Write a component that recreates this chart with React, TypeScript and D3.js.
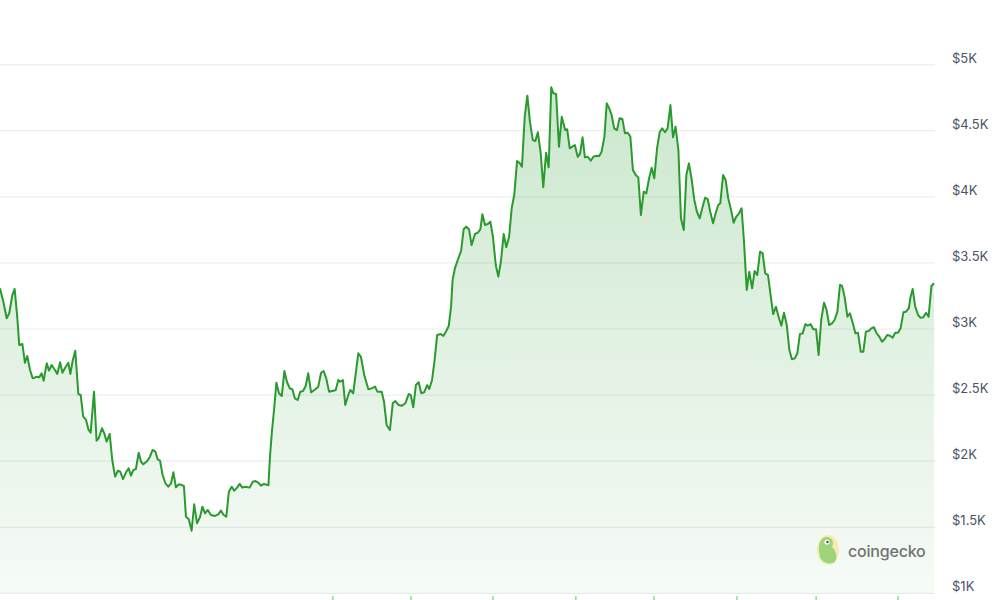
import React from "react";
import * as d3 from "d3";

const days = [
  0,1.3,2.6,3.6,4.8,5.7,6.7,7.5,8.7,9.7,10.6,11.7,12.7,14.3,15.3,16.2,17.0,18.2,19.1,20.1,21.4,22.3,23.4,24.3,25.6,26.6,27.4,28.3,29.3,30.5,31.4,32.4,33.5,34.4,35.3,36.6,37.6,38.4,39.7,40.6,41.5,42.7,43.7,44.8,45.9,46.8,47.9,49.1,50.1,51.0,51.9,52.9,54.0,54.9,55.8,57.3,58.4,59.4,60.5,61.4,62.3,63.3,64.4,65.5,66.6,67.5,68.5,69.6,70.7,71.6,72.4,73.5,
  74.6,75.6,76.7,77.9,78.8,79.8,80.9,82.1,83.7,85.0,86.0,87.1,88.1,89.1,90.2,91.2,92.3,93.3,94.3,95.4,97.2,98.4,99.5,100.6,101.6,102.7,104.5,105.1,105.8,106.8,107.6,108.6,109.7,110.7,111.7,112.8,113.8,114.8,115.9,116.9,118.0,119.0,120.0,121.1,122.4,123.9,125.0,126.0,127.0,128.1,129.8,130.7,131.7,132.5,133.5,134.4,135.6,136.4,137.5,138.5,139.5,140.5,141.8,143.4,144.7,146.0,
  146.9,148.6,149.5,150.5,151.8,152.9,153.9,155.2,156.5,157.8,159.1,159.9,160.9,161.9,163.0,164.0,165.1,166.3,167.1,168.2,169.2,170.2,171.6,172.6,173.6,174.7,175.6,176.2,177.1,178.2,179.5,180.5,181.5,182.6,183.6,184.9,186.0,187.0,187.8,188.8,189.9,190.9,191.9,193.0,194.0,195.0,196.1,197.1,198.2,199.2,200.2,201.3,202.2,203.2,204.3,205.3,206.3,207.4,208.4,209.4,210.5,211.5,212.6,213.6,214.6,215.4,216.5,217.6,
  218.7,220.0,220.8,221.8,222.8,223.8,224.9,225.8,226.8,227.7,228.8,230.0,231.0,232.3,233.3,234.2,235.3,236.2,237.2,238.1,239.1,240.2,241.2,242.3,243.3,244.4,245.4,246.4,247.5,248.5,249.5,250.6,251.6,252.7,253.7,254.7,255.8,256.8,257.8,258.9,259.9,261.0,262.0,263.0,264.1,265.1,266.2,267.2,268.2,269.3,270.3,271.3,272.4,273.4,274.5,275.5,276.5,277.6,278.6,279.6,280.4,281.5,282.5,283.5,284.6,285.6,286.6,287.7,288.7,
  289.6,290.7,291.7,292.8,293.8,294.8,295.9,296.9,297.9,299.0,300.0,301.0,302.1,303.1,304.2,305.2,306.3,307.3,308.3,309.4,310.4,311.4,312.5,313.5,314.5,315.6,316.6,317.7,318.7,319.7,320.8,321.8,322.8,323.9,324.9,326.0,327.0,327.8,328.8,329.9,330.9,332.0,333.0,334.0,335.1,336.1,337.1,338.2,339.2,340.2,341.3,342.3,343.4,344.4,345.4,346.5,347.5,348.5,349.6,350.6,351.7,352.7,353.8,354.5,355.3,356.3,357.4,358.4,359.4,360.5,361.5,362.6,363.6,
];

const prices = [
  3308,3206,3081,3119,3257,3303,3093,2879,2887,2745,2796,2690,2627,2639,2635,2665,2609,2741,2685,2728,2690,2660,2748,2669,2715,2745,2660,2760,2836,2508,2501,2337,2312,2241,2216,2526,2155,2173,2249,2211,2148,2206,2009,1883,1928,1921,1865,1918,1946,1890,1933,1941,2064,1996,1977,2002,2034,2085,2072,2014,2004,1896,1833,1807,1833,1916,1803,1825,1820,1812,1580,1561,
  1474,1674,1530,1580,1656,1606,1631,1593,1586,1598,1626,1593,1580,1769,1807,1777,1800,1828,1800,1807,1800,1845,1850,1837,1815,1828,1818,2034,2211,2412,2594,2514,2493,2682,2601,2551,2544,2476,2463,2526,2531,2569,2665,2521,2539,2564,2669,2682,2627,2526,2533,2539,2614,2601,2614,2425,2501,2539,2514,2665,2816,2790,2652,2544,2551,2564,
  2526,2526,2450,2274,2236,2438,2455,2425,2420,2438,2508,2501,2408,2576,2597,2514,2521,2576,2546,2614,2766,2955,2962,2947,2980,3023,3169,3371,3459,3522,3590,3754,3774,3754,3635,3719,3728,3754,3868,3787,3794,3812,3698,3484,3396,3509,3719,3618,3698,3913,4014,4271,4258,4228,4611,4765,4568,4430,4422,4488,4329,4072,4334,4223,4828,4783,4778,4379,
  4606,4505,4511,4367,4379,4392,4303,4324,4450,4299,4303,4273,4303,4311,4309,4341,4455,4707,4669,4619,4518,4505,4594,4588,4480,4485,4455,4203,4165,4147,3862,4039,4026,4140,4220,4140,4367,4488,4518,4488,4518,4694,4450,4530,4354,3837,3749,4165,4253,4127,3976,3887,3837,3913,3993,3983,3887,3800,3875,3938,3951,4165,4127,3989,3900,3804,3849,3875,3913,
  3673,3295,3433,3308,3439,3408,3585,3573,3421,3408,3257,3113,3169,3093,3025,3123,3030,2841,2771,2778,2816,2962,2967,3036,3025,3036,2998,2998,2803,3068,3199,3144,3030,3043,3068,3131,3333,3328,3244,3093,3119,3043,2967,2972,2828,2828,2980,2985,3005,3013,2967,2942,2904,2924,2955,2949,2934,2972,2972,3005,3126,3131,3157,3244,3303,3169,3106,3085,3088,3123,3093,3325,3346,
];

const yTicks = [1000, 1500, 2000, 2500, 3000, 3500, 4000, 4500, 5000];
const yTickLabels = ["$1K", "$1.5K", "$2K", "$2.5K", "$3K", "$3.5K", "$4K", "$4.5K", "$5K"];
const monthTicks = [129.6, 160, 191.9, 224.2, 254.6, 286.9, 317.7, 349.6];

export default function App() {
  const W = 1000;
  const H = 600;
  const x = d3.scaleLinear().domain([0, 364]).range([0, 935]);
  const y = d3.scaleLinear().domain([1000, 5000]).range([593.4, 64.6]);
  const data = days.map((d, i) => ({ d, p: prices[i] }));
  const line = d3
    .line<{ d: number; p: number }>()
    .x((v) => x(v.d))
    .y((v) => y(v.p));
  const area = d3
    .area<{ d: number; p: number }>()
    .x((v) => x(v.d))
    .y0(y(1000))
    .y1((v) => y(v.p));

  return (
    <svg
      width={W}
      height={H}
      style={{ position: "absolute", left: 0, top: 0, display: "block", background: "#fff" }}
    >
      <defs>
        <linearGradient id="fillGrad" gradientUnits="userSpaceOnUse" x1="0" y1={y(5000)} x2="0" y2={y(1000)}>
          <stop offset="0" stopColor="#22992a" stopOpacity={0.24} />
          <stop offset="1" stopColor="#22992a" stopOpacity={0.04} />
        </linearGradient>
      </defs>
      {yTicks.map((t) => (
        <line key={"g" + t} x1={0} x2={935} y1={y(t)} y2={y(t)} stroke="#eceef2" strokeWidth={1.2} />
      ))}
      <path d={area(data) || ""} fill="url(#fillGrad)" />
      <path d={line(data) || ""} fill="none" stroke="#2a9a2e" strokeWidth={2} strokeLinejoin="round" />
      {yTicks.map((t, i) => (
        <text
          key={"l" + t}
          x={952}
          y={y(t) - 2}
          fontFamily="Inter, 'DejaVu Sans', sans-serif"
          fontSize={13}
          fill="#4a5468"
        >
          {yTickLabels[i]}
        </text>
      ))}
      {monthTicks.map((m) => (
        <line key={"m" + m} x1={x(m)} x2={x(m)} y1={596} y2={600} stroke="#5cc463" strokeWidth={1} />
      ))}
      <g>
        <ellipse cx={828} cy={550} rx={11} ry={15} fill="#f5edb0" />
        <path
          d="M819,551 C818,542 822,536 828,537 C833,538 834,543 832,547 C836,551 838,557 835,562 C831,565 822,563 820,557 Z"
          fill="#9fd37c"
        />
        <circle cx={827} cy={542} r={2.6} fill="#ffffff" />
        <circle cx={827.5} cy={542} r={1.2} fill="#4a4a4a" />
        <text
          x={848}
          y={557}
          fontFamily="Inter, 'DejaVu Sans', sans-serif"
          fontSize={16}
          fontWeight={500}
          letterSpacing={-0.2}
          fill="#727272"
        >
          coingecko
        </text>
      </g>
    </svg>
  );
}
